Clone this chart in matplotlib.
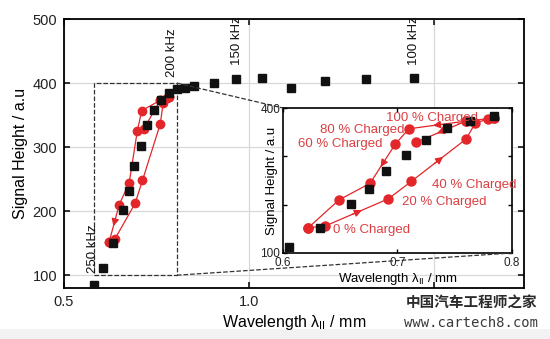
import numpy as np
import matplotlib
matplotlib.use("Agg")
import matplotlib.pyplot as plt
from matplotlib.lines import Line2D
from matplotlib.patches import Rectangle

plt.rcParams['font.family'] = ['Liberation Sans', 'DejaVu Sans']
plt.rcParams['mathtext.fontset'] = 'custom'
plt.rcParams['mathtext.rm'] = 'Liberation Sans'
plt.rcParams['mathtext.it'] = 'Liberation Sans'

# black squares: signal height vs wavelength (frequency sweep)
sq_x = [0.581, 0.605, 0.632, 0.659, 0.675, 0.690, 0.707, 0.725, 0.743, 0.763, 0.784,
        0.805, 0.827, 0.851, 0.905, 0.965, 1.035, 1.114, 1.205, 1.316, 1.446]
sq_y = [84, 112, 151, 202, 232, 270, 302, 334, 358, 373, 384,
        391, 393, 395, 400, 406, 408, 392, 403, 406, 408]

# red circles: state of charge loop
up_x = [0.622, 0.637, 0.692, 0.712, 0.760, 0.768, 0.779, 0.784]
up_y = [152, 156, 212, 248, 336, 369, 377, 379]
dn_x = [0.784, 0.760, 0.710, 0.698, 0.676, 0.649, 0.622]
dn_y = [379, 373, 357, 325, 244, 210, 152]
side_x = [0.760, 0.716]
side_y = [373, 329]

freq_labels = ["250 kHz", "200 kHz", "150 kHz", "100 kHz"]
freq_x = [0.578, 0.792, 0.968, 1.446]
freq_y = [103, 409, 428, 428]

soc_labels = ["100 % Charged", "80 % Charged", "60 % Charged",
              "40 % Charged", "20 % Charged", "0 % Charged"]
soc_x = [0.7305, 0.706, 0.687, 0.730, 0.704, 0.6435]
soc_y = [380, 355, 325, 241, 205, 148]
soc_ha = ['center', 'right', 'right', 'left', 'left', 'left']

zoom_box = (0.58, 0.805, 100, 400)

red = '#e3262a'
red_txt = '#db3f42'
blk = '#111111'

fig = plt.figure(figsize=(5.5, 3.39), dpi=100)
fig.patch.set_facecolor('white')
fig.add_artist(Rectangle((0, 0), 1, 0.03, transform=fig.transFigure,
                         facecolor='#f2f2f2', edgecolor='none', zorder=0))

ax = fig.add_axes([0.1164, 0.1504, 0.8363, 0.7935])
ax.set_xlim(0.5, 1.743)
ax.set_ylim(80, 500)
ax.set_xticks([0.5, 1.0, 1.5])
ax.set_xticklabels(['0.5', '1.0', ''])   # 1.5 is hidden under the watermark
ax.set_yticks([100, 200, 300, 400, 500])
ax.grid(True, color='#d8d8d8', lw=0.9)
ax.set_axisbelow(True)
ax.tick_params(direction='in', top=True, right=True, length=4, width=1.1,
               labelsize=10.5, pad=5, labelcolor='#222222')
for s in ax.spines.values():
    s.set_linewidth(1.3)
ax.set_xlabel(r'Wavelength $\lambda_{\rm II}$ / mm', fontsize=11.5, labelpad=3)
ax.set_ylabel('Signal Height / a.u', fontsize=11.5, labelpad=3)


def draw_loop(a, ms, arrows):
    a.plot(up_x, up_y, '-o', color=red, lw=0.9, ms=ms, mec=red, zorder=3)
    a.plot(dn_x, dn_y, '-o', color=red, lw=0.9, ms=ms, mec=red, zorder=3)
    a.plot(side_x, side_y, '-o', color=red, lw=0.9, ms=ms, mec=red, zorder=3)
    for xs, ys, i in arrows:
        x0, y0, x1, y1 = xs[i], ys[i], xs[i + 1], ys[i + 1]
        xm, ym = (x0 + x1) / 2, (y0 + y1) / 2
        a.annotate('', xy=(xm + (x1 - x0) * 0.08, ym + (y1 - y0) * 0.08),
                   xytext=(xm - (x1 - x0) * 0.08, ym - (y1 - y0) * 0.08),
                   arrowprops=dict(arrowstyle='-|>', color=red, lw=0.9,
                                   mutation_scale=11, shrinkA=0, shrinkB=0),
                   zorder=4)


draw_loop(ax, 6, [(dn_x, dn_y, 5)])
ax.plot(sq_x, sq_y, 's', color=blk, ms=5.5, zorder=5)

for t, x, y in zip(freq_labels, freq_x, freq_y):
    ax.text(x, y, t, rotation=90, ha='center', va='bottom', fontsize=9.5, color=blk)

# zoom rectangle
x0, x1, y0, y1 = zoom_box
ax.plot([x0, x1, x1, x0, x0], [y0, y0, y1, y1, y0], '--', color='#333333', lw=0.9, zorder=2)

# inset
ins_pos = [0.5145, 0.2537, 0.4164, 0.4277]
axi = fig.add_axes(ins_pos)
axi.set_facecolor('white')
axi.set_xlim(0.6, 0.8)
axi.set_ylim(100, 400)
axi.set_xticks([0.6, 0.7, 0.8])
axi.set_xticklabels(['0.6', '0.7', '0.8'])
axi.set_yticks([100, 200, 300, 400])
axi.set_yticklabels(['100', '', '', '400'])
axi.tick_params(direction='in', top=True, right=True, length=3, width=1.0,
                labelsize=8.5, pad=2, labelcolor='#222222')
axi.tick_params(axis='x', pad=3)
for s in axi.spines.values():
    s.set_linewidth(1.2)
axi.set_xlabel(r'Wavelength $\lambda_{\rm II}$ / mm', fontsize=9.5, labelpad=1)
axi.set_ylabel('Signal Height / a.u', fontsize=9.5)
axi.yaxis.set_label_coords(-0.022, 0.5)

draw_loop(axi, 6.5, [(up_x, up_y, 1), (up_x, up_y, 3), (dn_x, dn_y, 1),
                     (dn_x, dn_y, 3), (side_x, side_y, 0)])
axi.plot(sq_x, sq_y, 's', color=blk, ms=5.5, zorder=5, clip_on=True)

for t, x, y, h in zip(soc_labels, soc_x, soc_y, soc_ha):
    axi.text(x, y, t, ha=h, va='center', fontsize=9.5, color=red_txt, zorder=6)

# dashed connectors from zoom box to inset corners
inv = fig.transFigure.inverted()
p_tr = inv.transform(ax.transData.transform((x1, y1)))
p_br = inv.transform(ax.transData.transform((x1, y0)))
fig.add_artist(Line2D([p_tr[0], ins_pos[0]], [p_tr[1], ins_pos[1] + ins_pos[3]],
                      ls='--', color='#333333', lw=0.9, zorder=1))
fig.add_artist(Line2D([p_br[0], ins_pos[0] + ins_pos[2]], [p_br[1], ins_pos[1]],
                      ls='--', color='#333333', lw=0.9, zorder=10))

# watermark
fig.text(0.857, 0.108, '中国汽车工程师之家', ha='center', va='center', fontsize=10.5,
         fontweight='bold', color='#2a2a2a', family=['Noto Sans CJK SC', 'DejaVu Sans'],
         zorder=20)
fig.text(0.857, 0.046, 'www.cartech8.com', ha='center', va='center', fontsize=10,
         color='#3a3a3a', family=['DejaVu Sans Mono'], zorder=20)

fig.savefig('out.png', dpi=100)
